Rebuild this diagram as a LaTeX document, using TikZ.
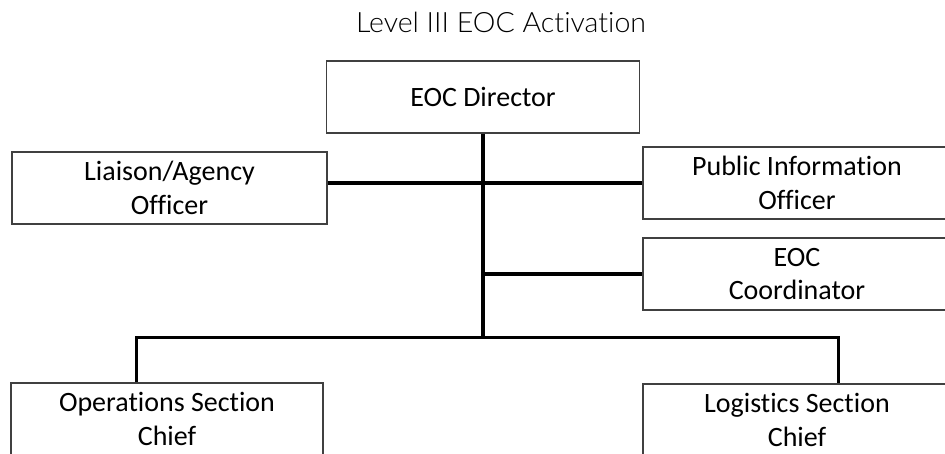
\documentclass[tikz,border=0pt]{standalone}
\usepackage{fontspec}
\setmainfont{Carlito}[RawFeature={-liga;-clig;-dlig;-calt}]
\newfontfamily\titlefont{Lato}[UprightFont=* Light, RawFeature={-liga;-clig;-dlig;-calt}]
\usetikzlibrary{calc}
\definecolor{boxgray}{HTML}{404040}
\begin{document}
\begin{tikzpicture}[x=0.75pt,y=-0.75pt,
  box/.style={draw=boxgray, line width=1.1pt, inner sep=0pt, minimum height=54pt,
    align=center, font=\fontsize{21}{25}\selectfont},
  wideA/.style={minimum width=234.75pt},
  wideB/.style={minimum width=236.25pt},
  wideC/.style={minimum width=231pt},
  wideD/.style={minimum width=234pt},
  heading/.style={font=\titlefont\fontsize{21}{24}\selectfont, anchor=base, xscale=1.02, transform shape},
  link/.style={line width=2.6pt, black}]
\useasboundingbox (0,0) rectangle (945,453);
\clip (0,0) rectangle (945,453);
\node[heading] (title) at (501,33) {Level III EOC Activation};
\node[box, wideA] (dir) at (483,97) {EOC Director};
\node[box, wideB] (liaison) at (169.5,188) {Liaison/Agency\\Officer};
\node[box, wideC] (pio) at (797,183) {Public Information\\Officer};
\node[box, wideC] (coord) at (797,274) {EOC\\Coordinator};
\node[box, wideD] (ops) at (167,419) {Operations Section\\Chief};
\node[box, wideC] (log) at (797,420) {Logistics Section\\Chief};
\path (dir.south) ++(0,204) coordinate (bus);
\draw[link] (dir.south) -- (bus);
\draw[link] (liaison.east |- pio.west) -- (pio.west);
\draw[link] (dir.south |- coord.west) -- (coord.west);
\draw[link] ($(ops.north west)+(126,0)$) |- (bus) -| ($(log.north west)+(196,0)$);
\end{tikzpicture}
\end{document}
